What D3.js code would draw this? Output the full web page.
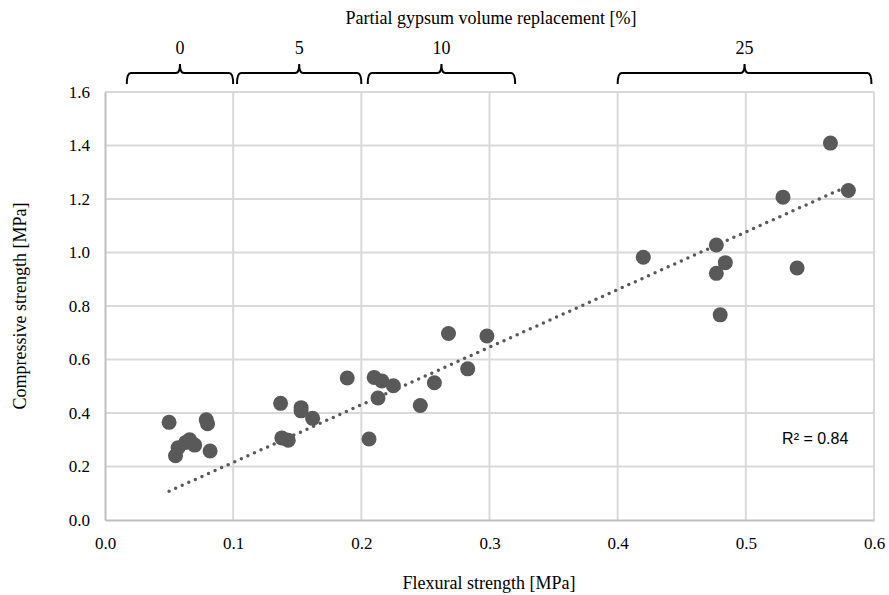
<!DOCTYPE html>
<html>
<head>
<meta charset="utf-8">
<script src="https://cdn.jsdelivr.net/npm/d3@7"></script>
<style>
  body { margin: 0; background: #fff; }
  .tick text { font-family: "Liberation Serif", "Times New Roman", serif; font-size: 17px; fill: #000; }
  .label { font-family: "Liberation Serif", "Times New Roman", serif; font-size: 18px; fill: #000; }
</style>
</head>
<body>
<script>
// Flexural strength [MPa]
const flexural = [
  0.050, 0.055, 0.057, 0.063, 0.066, 0.070, 0.079, 0.080, 0.082,
  0.137, 0.138, 0.143, 0.153, 0.153, 0.162, 0.189,
  0.206, 0.210, 0.213, 0.216, 0.225, 0.246, 0.257, 0.268, 0.283, 0.298,
  0.420, 0.477, 0.477, 0.480, 0.484, 0.529, 0.540, 0.566, 0.580
];
// Compressive strength [MPa]
const compressive = [
  0.365, 0.240, 0.270, 0.290, 0.300, 0.280, 0.375, 0.360, 0.258,
  0.436, 0.307, 0.298, 0.420, 0.408, 0.380, 0.531,
  0.303, 0.533, 0.456, 0.520, 0.502, 0.428, 0.513, 0.697, 0.565, 0.688,
  0.982, 1.028, 0.922, 0.767, 0.962, 1.207, 0.942, 1.409, 1.232
];
// Top brackets: gypsum replacement groups, span in flexural units
const groupLabels = ["0", "5", "10", "25"];
const groupStart = [0.017, 0.103, 0.205, 0.400];
const groupEnd = [0.100, 0.200, 0.320, 0.598];

const xTicks = [0, 0.1, 0.2, 0.3, 0.4, 0.5, 0.6];
const yTicks = [0, 0.2, 0.4, 0.6, 0.8, 1.0, 1.2, 1.4, 1.6];
const r2Text = "R² = 0.84";

const width = 889, height = 595;
const margin = { top: 92, right: 15, bottom: 75, left: 105 };
const color = "#595959";
const gridColor = "#d9d9d9";

const svg = d3.select("body").append("svg")
  .attr("width", width)
  .attr("height", height);

const x = d3.scaleLinear().domain([0, 0.6]).range([margin.left, 874]);
const y = d3.scaleLinear().domain([0, 1.6]).range([520, margin.top]);

// gridlines
svg.append("g")
  .selectAll("line.v")
  .data(xTicks.slice(1))
  .join("line")
  .attr("x1", d => x(d)).attr("x2", d => x(d))
  .attr("y1", y(0)).attr("y2", y(1.6))
  .attr("stroke", gridColor).attr("stroke-width", 2);

svg.append("g")
  .selectAll("line.h")
  .data(yTicks.slice(1))
  .join("line")
  .attr("x1", x(0)).attr("x2", x(0.6))
  .attr("y1", d => y(d)).attr("y2", d => y(d))
  .attr("stroke", gridColor).attr("stroke-width", 2);

// axes
const xAxis = svg.append("g")
  .attr("transform", `translate(0,${y(0)})`)
  .call(d3.axisBottom(x).tickValues(xTicks).tickFormat(d3.format(".1f")).tickSize(0).tickPadding(17));
const yAxis = svg.append("g")
  .attr("transform", `translate(${x(0)},0)`)
  .call(d3.axisLeft(y).tickValues(yTicks).tickFormat(d3.format(".1f")).tickSize(0).tickPadding(15));
[xAxis, yAxis].forEach(a => a.select(".domain").attr("stroke", "#bfbfbf").attr("stroke-width", 2));

// trendline: least squares through the origin
const slope = d3.sum(flexural, (f, i) => f * compressive[i]) / d3.sum(flexural, f => f * f);
const xs = d3.extent(flexural);
svg.append("line")
  .attr("x1", x(xs[0])).attr("y1", y(slope * xs[0]))
  .attr("x2", x(xs[1])).attr("y2", y(slope * xs[1]))
  .attr("stroke", color)
  .attr("stroke-width", 3.5)
  .attr("stroke-linecap", "round")
  .attr("stroke-dasharray", "0 7.2");

// points
svg.append("g")
  .selectAll("circle")
  .data(flexural.map((f, i) => [f, compressive[i]]))
  .join("circle")
  .attr("cx", d => x(d[0]))
  .attr("cy", d => y(d[1]))
  .attr("r", 7.5)
  .attr("fill", color);

// R² label
svg.append("text")
  .attr("x", x(0.58)).attr("y", y(0.284))
  .attr("text-anchor", "end")
  .attr("font-family", "Liberation Sans, Arial, sans-serif")
  .attr("font-size", 16)
  .text(r2Text);

// axis titles
svg.append("text").attr("class", "label")
  .attr("x", 489).attr("y", 589)
  .attr("text-anchor", "middle")
  .text("Flexural strength [MPa]");
svg.append("text").attr("class", "label")
  .attr("transform", `translate(26,${(y(0) + y(1.6)) / 2}) rotate(-90)`)
  .attr("text-anchor", "middle")
  .text("Compressive strength [MPa]");
svg.append("text").attr("class", "label")
  .attr("x", 491).attr("y", 24)
  .attr("text-anchor", "middle")
  .text("Partial gypsum volume replacement [%]");

// braces
const braceTop = 73, braceBottom = 84, tipTop = 64;
const brace = (a, b) => {
  const x1 = x(a), x2 = x(b), xm = (x1 + x2) / 2, c = 4;
  return `M${x1},${braceBottom} Q${x1},${braceTop} ${x1 + c},${braceTop}` +
    ` L${xm - c},${braceTop} Q${xm},${braceTop} ${xm},${tipTop}` +
    ` Q${xm},${braceTop} ${xm + c},${braceTop}` +
    ` L${x2 - c},${braceTop} Q${x2},${braceTop} ${x2},${braceBottom}`;
};
const groups = svg.append("g");
groupLabels.forEach((lab, i) => {
  groups.append("path")
    .attr("d", brace(groupStart[i], groupEnd[i]))
    .attr("fill", "none")
    .attr("stroke", "#000")
    .attr("stroke-width", 2);
  groups.append("text").attr("class", "label")
    .attr("x", (x(groupStart[i]) + x(groupEnd[i])) / 2)
    .attr("y", 54)
    .attr("text-anchor", "middle")
    .text(lab);
});
</script>
</body>
</html>
